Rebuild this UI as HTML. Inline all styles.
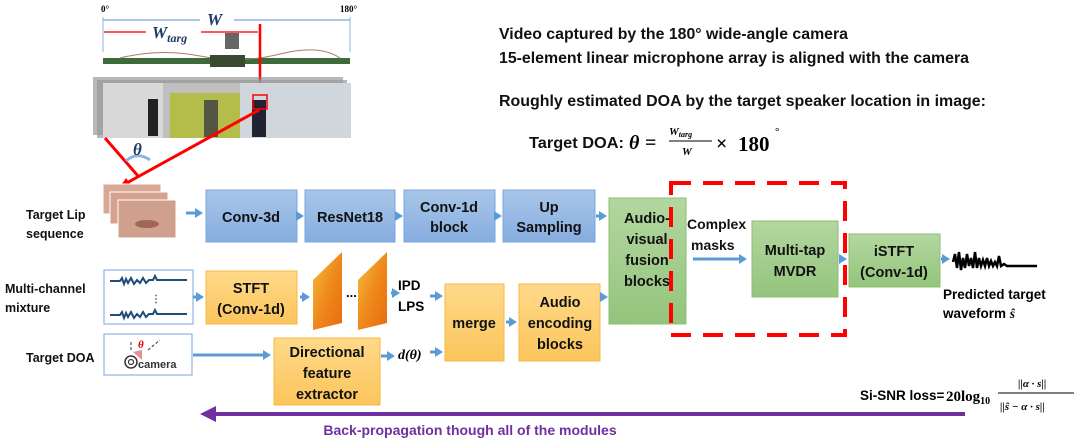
<!DOCTYPE html>
<html><head><meta charset="utf-8">
<style>
html,body{margin:0;padding:0;background:#fff;}
body{width:1080px;height:440px;overflow:hidden;position:relative;font-family:"Liberation Sans",sans-serif;}
svg{position:absolute;left:0;top:0;}
text{font-family:"Liberation Sans",sans-serif;font-weight:bold;}
.s{font-family:"Liberation Serif",serif;}
</style></head><body>
<svg width="1080" height="440" viewBox="0 0 1080 440" xmlns="http://www.w3.org/2000/svg">
<defs>
<linearGradient id="bl" x1="0" y1="0" x2="0" y2="1"><stop offset="0" stop-color="#a9c6e8"/><stop offset="1" stop-color="#86ade0"/></linearGradient>
<linearGradient id="or" x1="0" y1="0" x2="0" y2="1"><stop offset="0" stop-color="#ffd98a"/><stop offset="1" stop-color="#fbc55c"/></linearGradient>
<linearGradient id="gr" x1="0" y1="0" x2="0" y2="1"><stop offset="0" stop-color="#b3d7a0"/><stop offset="1" stop-color="#94c47c"/></linearGradient>
<linearGradient id="sp" x1="0" y1="0" x2="1" y2="1"><stop offset="0" stop-color="#f5c040"/><stop offset="0.5" stop-color="#ef8a1c"/><stop offset="1" stop-color="#e86a10"/></linearGradient>
<marker id="ah" markerUnits="userSpaceOnUse" markerWidth="8" markerHeight="10" refX="1" refY="5" orient="auto"><path d="M0,0 L8,5 L0,10z" fill="#5b9bd5"/></marker>
</defs>

<!-- top photo area -->
<text x="101" y="12" font-size="9" class="s">0°</text>
<text x="340" y="12" font-size="9" class="s">180°</text>
<line x1="103" y1="20" x2="350" y2="20" stroke="#8db3e2" stroke-width="1.5"/>
<line x1="103" y1="17" x2="103" y2="52" stroke="#8db3e2" stroke-width="1"/>
<line x1="350" y1="17" x2="350" y2="52" stroke="#8db3e2" stroke-width="1"/>
<rect x="200" y="10" width="34" height="16" fill="#fff"/>
<text x="207" y="25" font-size="17" font-style="italic" font-weight="normal" class="s" fill="#1f3864">W</text>
<line x1="104" y1="32" x2="258" y2="32" stroke="#ff2020" stroke-width="1.5"/>
<rect x="146" y="22" width="55" height="22" fill="#fff"/>
<text x="152" y="38" font-size="17" font-style="italic" font-weight="normal" class="s" fill="#1f3864">W<tspan font-size="12" dy="4">targ</tspan></text>
<rect x="225" y="33" width="14" height="16" fill="#666"/>
<rect x="103" y="58" width="247" height="6" fill="#3e6b3a"/>
<path d="M120,58 Q160,48 200,56 T280,54 T340,58" stroke="#a08060" fill="none"/>
<rect x="210" y="55" width="35" height="12" fill="#3a4a30"/>
<line x1="260" y1="24" x2="260" y2="92" stroke="#ff0000" stroke-width="2.5"/>
<path d="M255,90 L260,98 L265,90z" fill="#ff0000"/>
<rect x="93" y="77" width="250" height="58" fill="#888" opacity="0.6"/>
<rect x="97" y="80" width="250" height="58" fill="#999" opacity="0.7"/>
<rect x="103" y="83" width="248" height="55" fill="#bfbfbf"/>
<rect x="103" y="83" width="60" height="55" fill="#d8d8d8"/>
<rect x="170" y="93" width="70" height="45" fill="#b4bc4a"/>
<rect x="240" y="83" width="111" height="55" fill="#cfd6dc"/>
<rect x="148" y="99" width="10" height="37" fill="#222"/>
<rect x="204" y="100" width="14" height="37" fill="#554"/>
<rect x="252" y="100" width="14" height="37" fill="#223"/>
<rect x="253" y="95" width="14" height="14" fill="none" stroke="#ff0000" stroke-width="1.5"/>
<line x1="105" y1="138" x2="138" y2="176" stroke="#ff0000" stroke-width="3"/>
<line x1="259" y1="110" x2="123" y2="185" stroke="#ff0000" stroke-width="3"/>
<path d="M126,178 L119,188 L131,185z" fill="#ff0000"/>
<path d="M126,161 Q137,151 150,160" stroke="#8db3e2" stroke-width="3" fill="none"/>
<text x="133" y="155" font-size="17" font-style="italic" class="s" fill="#1f3864">θ</text>

<!-- right text -->
<g font-size="16" fill="#111">
<text x="499" y="39" textLength="349" lengthAdjust="spacingAndGlyphs">Video captured by the 180° wide-angle camera</text>
<text x="499" y="63" textLength="470" lengthAdjust="spacingAndGlyphs">15-element linear microphone array is aligned with the camera</text>
<text x="499" y="106" textLength="487" lengthAdjust="spacingAndGlyphs">Roughly estimated DOA by the target speaker location in image:</text>
<text x="529" y="148" textLength="95" lengthAdjust="spacingAndGlyphs">Target DOA:</text>
</g>
<text x="629" y="149" font-size="20" font-style="italic" class="s">θ</text>
<text x="645" y="149" font-size="20" class="s" font-weight="normal">=</text>
<text x="669" y="135" font-size="11" font-style="italic" class="s">W<tspan font-size="8" dy="2">targ</tspan></text>
<line x1="669" y1="141" x2="712" y2="141" stroke="#000" stroke-width="1"/>
<text x="682" y="155" font-size="11" font-style="italic" class="s">W</text>
<text x="716" y="150" font-size="20" class="s" font-weight="normal">×</text>
<text x="738" y="151" font-size="21" class="s">180</text>
<text x="775" y="135" font-size="11" class="s" font-weight="normal">°</text>

<!-- left labels -->
<g font-size="12.5" fill="#111">
<text x="26" y="219">Target Lip</text>
<text x="26" y="238">sequence</text>
<text x="5" y="293">Multi-channel</text>
<text x="5" y="312">mixture</text>
<text x="26" y="362">Target DOA</text>
</g>

<!-- lip images -->
<rect x="103" y="184" width="58" height="30" fill="#d9a894" stroke="#fff"/>
<rect x="110" y="192" width="58" height="32" fill="#d4a28e" stroke="#fff"/>
<rect x="118" y="200" width="58" height="38" fill="#cfa08c" stroke="#fff"/>
<ellipse cx="147" cy="224" rx="12" ry="4" fill="#a0665a"/>

<!-- blue boxes -->
<g stroke="#7aa6dc" stroke-width="1" fill="url(#bl)">
<rect x="206" y="190" width="91" height="52"/>
<rect x="305" y="190" width="90" height="52"/>
<rect x="404" y="190" width="91" height="52"/>
<rect x="503" y="190" width="92" height="52"/>
</g>
<g font-size="14.5" fill="#111" text-anchor="middle">
<text x="251" y="222">Conv-3d</text>
<text x="350" y="222">ResNet18</text>
<text x="449" y="212">Conv-1d</text>
<text x="449" y="232">block</text>
<text x="549" y="212">Up</text>
<text x="549" y="232">Sampling</text>
</g>

<!-- orange boxes -->
<g stroke="#f5b942" stroke-width="1" fill="url(#or)">
<rect x="206" y="271" width="91" height="53"/>
<rect x="445" y="284" width="59" height="77"/>
<rect x="519" y="284" width="81" height="77"/>
<rect x="274" y="338" width="106" height="67"/>
</g>
<g font-size="14.5" fill="#111" text-anchor="middle">
<text x="251" y="293">STFT</text>
<text x="251" y="314">(Conv-1d)</text>
<text x="474" y="328">merge</text>
<text x="560" y="307">Audio</text>
<text x="560" y="328">encoding</text>
<text x="560" y="349">blocks</text>
<text x="327" y="357">Directional</text>
<text x="327" y="378">feature</text>
<text x="327" y="399">extractor</text>
</g>

<!-- green boxes -->
<g stroke="#8cbf72" stroke-width="1" fill="url(#gr)">
<rect x="609" y="198" width="77" height="126"/>
<rect x="752" y="221" width="86" height="76"/>
<rect x="849" y="234" width="91" height="53"/>
</g>
<g font-size="14.5" fill="#111" text-anchor="middle">
<text x="647" y="223">Audio-</text>
<text x="647" y="244">visual</text>
<text x="647" y="265">fusion</text>
<text x="647" y="286">blocks</text>
<text x="795" y="255">Multi-tap</text>
<text x="795" y="276">MVDR</text>
<text x="894" y="256">iSTFT</text>
<text x="894" y="277">(Conv-1d)</text>
</g>
<rect x="671" y="183" width="174" height="152" fill="none" stroke="#ff0000" stroke-width="4" stroke-dasharray="20,12"/>
<g font-size="14" fill="#111">
<text x="687" y="229">Complex</text>
<text x="691" y="250">masks</text>
</g>

<!-- waveform box & camera box -->
<rect x="104" y="270" width="89" height="54" fill="#fff" stroke="#8db3e2" stroke-width="1.2"/>
<path d="M110,281 h10 l2,-3 l2,6 l2,-5 l2,4 l3,-5 l3,6 l3,-4 l3,3 l3,-5 l3,5 l3,-3 h4 l2,-4 l2,4 h30" stroke="#1f4e79" stroke-width="2" fill="none"/>
<path d="M110,315 h10 l2,-3 l2,6 l2,-5 l2,4 l3,-5 l3,6 l3,-4 l3,3 l3,-5 l3,5 l3,-3 h4 l2,-4 l2,4 h30" stroke="#1f4e79" stroke-width="2" fill="none"/>
<text x="151" y="302" font-size="10" font-weight="normal" fill="#555">⋮</text>
<rect x="104" y="334" width="88" height="41" fill="#fff" stroke="#8db3e2" stroke-width="1.2"/>
<circle cx="131" cy="362" r="6" fill="none" stroke="#333" stroke-width="1.5"/>
<circle cx="131" cy="362" r="2.5" fill="none" stroke="#333" stroke-width="1.2"/>
<path d="M133,352 L142,350 L142,360z" fill="#e89090"/>
<line x1="131" y1="342" x2="131" y2="352" stroke="#333" stroke-dasharray="3,2"/>
<line x1="148" y1="350" x2="160" y2="340" stroke="#333" stroke-dasharray="3,2"/>
<text x="138" y="348" font-size="11" font-style="italic" font-weight="normal" class="s" fill="#d00">θ</text>
<text x="138" y="368" font-size="11" font-weight="normal" fill="#333">camera</text>

<!-- spectrograms -->
<path d="M313,280 L342,252 L342,323 L313,330z" fill="url(#sp)"/>
<path d="M358,280 L387,252 L387,323 L358,330z" fill="url(#sp)"/>
<text x="346" y="297" font-size="13">...</text>
<text x="398" y="290" font-size="13.5">IPD</text>
<text x="398" y="311" font-size="13.5">LPS</text>
<text x="398" y="359" font-size="14" font-style="italic" class="s">d(θ)</text>

<!-- arrows -->
<g stroke="#5b9bd5" stroke-width="3" marker-end="url(#ah)">
<line x1="186" y1="213" x2="196" y2="213"/>
<line x1="297" y1="216" x2="297" y2="216"/>
<line x1="396" y1="216" x2="396" y2="216"/>
<line x1="495" y1="216" x2="495" y2="216"/>
<line x1="596" y1="216" x2="600" y2="216"/>
<line x1="193" y1="297" x2="197" y2="297"/>
<line x1="300" y1="297" x2="303" y2="297"/>
<line x1="391" y1="293" x2="393" y2="293"/>
<line x1="430" y1="296" x2="436" y2="296"/>
<line x1="430" y1="352" x2="436" y2="352"/>
<line x1="381" y1="356" x2="388" y2="356"/>
<line x1="193" y1="355" x2="264" y2="355"/>
<line x1="506" y1="322" x2="510" y2="322"/>
<line x1="601" y1="297" x2="601" y2="297"/>
<line x1="693" y1="259" x2="740" y2="259"/>
<line x1="839" y1="259" x2="840" y2="259"/>
<line x1="941" y1="259" x2="943" y2="259"/>
</g>

<!-- output waveform -->
<path d="M953,262 l2,-8 l2,14 l2,-16 l2,18 l2,-12 l2,10 l2,-14 l2,12 l2,-8 l2,10 l2,-16 l2,16 l2,-10 l2,8 l2,-6 l2,6 l2,-8 l2,8 l2,-5 l2,5 l2,-4 l2,4 l2,-10 l2,10 l3,-2 l3,2 h30" stroke="#000" stroke-width="2.5" fill="none"/>
<text x="943" y="299" font-size="13.5">Predicted target</text>
<text x="943" y="318" font-size="13.5">waveform <tspan font-style="italic" class="s">ŝ</tspan></text>

<!-- loss -->
<text x="860" y="400" font-size="13.5">Si-SNR loss=</text>
<text x="946" y="401" font-size="15" class="s">20log<tspan font-size="10" dy="3">10</tspan></text>
<text x="1018" y="387" font-size="11" class="s" font-style="italic">||α · s||</text>
<line x1="998" y1="393" x2="1074" y2="393" stroke="#000"/>
<text x="1000" y="410" font-size="11" class="s" font-style="italic">||ŝ − α · s||</text>

<!-- back-prop -->
<line x1="212" y1="414" x2="965" y2="414" stroke="#7030a0" stroke-width="4"/>
<path d="M200,414 L216,406 L216,422z" fill="#7030a0"/>
<text x="470" y="435" font-size="14" fill="#7030a0" text-anchor="middle">Back-propagation though all of the modules</text>
</svg>
</body></html>
